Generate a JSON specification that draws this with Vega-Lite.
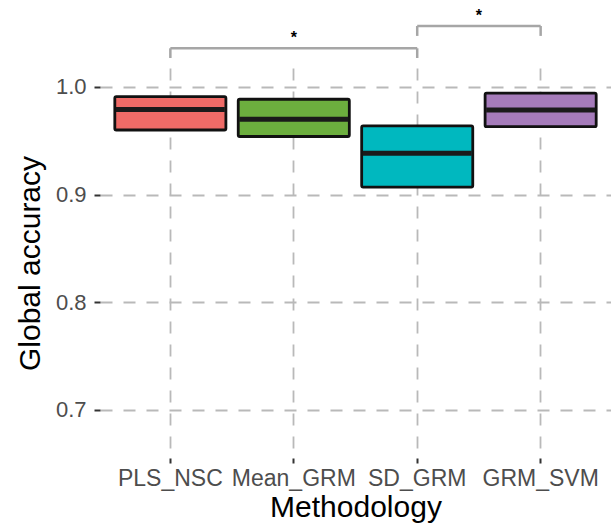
{
  "$schema": "https://vega.github.io/schema/vega-lite/v6.json",
  "width": 511,
  "height": 390,
  "autosize": {"type": "none"},
  "padding": {"left": 100, "top": 68, "right": 0, "bottom": 72},
  "background": "white",
  "config": {"view": {"stroke": null}, "font": "Liberation Sans"},
  "datasets": {
    "boxes": [
      {"method": "PLS_NSC", "q1": 0.960, "median": 0.979, "q3": 0.991},
      {"method": "Mean_GRM", "q1": 0.954, "median": 0.970, "q3": 0.9886},
      {"method": "SD_GRM", "q1": 0.907, "median": 0.9384, "q3": 0.9638},
      {"method": "GRM_SVM", "q1": 0.9631, "median": 0.9786, "q3": 0.9942}
    ],
    "brackets": [
      {"from": 1, "to": 3, "mid": 2, "top": 1.0359, "leg": 1.0269, "star": 1.0455, "label": "*"},
      {"from": 3, "to": 4, "mid": 3.5, "top": 1.0566, "leg": 1.0474, "star": 1.0659, "label": "*"}
    ]
  },
  "layer": [
    {
      "data": {"name": "boxes"},
      "layer": [
        {
          "mark": {"type": "bar", "stroke": "#111111", "strokeWidth": 2.8, "cornerRadius": 1.5, "strokeJoin": "round"},
          "encoding": {
            "x": {
              "field": "method", "type": "nominal",
              "sort": ["PLS_NSC", "Mean_GRM", "SD_GRM", "GRM_SVM"],
              "scale": {"paddingInner": 0.1, "paddingOuter": 0.12},
              "axis": {
                "title": "Methodology", "grid": true, "gridDash": [12, 11], "gridColor": "#B9B9B9", "gridWidth": 1.8,
                "domain": false, "ticks": true, "tickColor": "#333333", "tickWidth": 2, "tickSize": 5,
                "labelFontSize": 23, "labelColor": "#4D4D4D", "labelPadding": 4, "labelAngle": 0, "labelOverlap": false,
                "titleFontSize": 30, "titleFontWeight": "normal", "titleColor": "black", "titlePadding": 2
              }
            },
            "y": {
              "field": "q1", "type": "quantitative", "title": "Global accuracy",
              "scale": {"domain": [0.6554, 1.0176], "nice": false, "zero": false},
              "axis": {
                "title": "Global accuracy", "values": [0.7, 0.8, 0.9, 1.0], "format": ".1f",
                "grid": true, "gridDash": [12, 11], "gridColor": "#B9B9B9", "gridWidth": 1.8,
                "domain": false, "ticks": true, "tickColor": "#333333", "tickWidth": 2, "tickSize": 6,
                "labelFontSize": 22, "labelColor": "#4D4D4D", "labelPadding": 8,
                "titleFontSize": 30, "titleFontWeight": "normal", "titleColor": "black", "titlePadding": 10
              }
            },
            "y2": {"field": "q3"},
            "fill": {
              "field": "method", "type": "nominal",
              "scale": {"domain": ["PLS_NSC", "Mean_GRM", "SD_GRM", "GRM_SVM"], "range": ["#EF6B67", "#6CAE3E", "#00B8BF", "#A57BBA"]},
              "legend": null
            }
          }
        },
        {
          "mark": {"type": "tick", "orient": "horizontal", "color": "#1A1A1A", "thickness": 5, "size": 109, "opacity": 1},
          "encoding": {
            "x": {"field": "method", "type": "nominal", "sort": ["PLS_NSC", "Mean_GRM", "SD_GRM", "GRM_SVM"]},
            "y": {"field": "median", "type": "quantitative", "title": "Global accuracy"}
          }
        }
      ]
    },
    {
      "data": {"name": "brackets"},
      "layer": [
        {
          "mark": {"type": "rule", "color": "#A6A6A6", "strokeWidth": 2.5},
          "encoding": {
            "x": {"field": "from", "type": "quantitative", "scale": {"domain": [0.43, 4.57], "nice": false, "zero": false}, "axis": null},
            "x2": {"field": "to"},
            "y": {"field": "top", "type": "quantitative", "title": "Global accuracy"}
          }
        },
        {
          "mark": {"type": "rule", "color": "#A6A6A6", "strokeWidth": 2.5},
          "encoding": {
            "x": {"field": "from", "type": "quantitative", "axis": null},
            "y": {"field": "leg", "type": "quantitative", "title": "Global accuracy"},
            "y2": {"field": "top"}
          }
        },
        {
          "mark": {"type": "rule", "color": "#A6A6A6", "strokeWidth": 2.5},
          "encoding": {
            "x": {"field": "to", "type": "quantitative", "axis": null},
            "y": {"field": "leg", "type": "quantitative", "title": "Global accuracy"},
            "y2": {"field": "top"}
          }
        },
        {
          "mark": {"type": "text", "fontSize": 16, "fontWeight": "bold", "color": "black", "baseline": "middle", "align": "center"},
          "encoding": {
            "x": {"field": "mid", "type": "quantitative", "axis": null},
            "y": {"field": "star", "type": "quantitative", "title": "Global accuracy"},
            "text": {"field": "label"}
          }
        }
      ]
    }
  ],
  "resolve": {"scale": {"x": "independent"}}
}
